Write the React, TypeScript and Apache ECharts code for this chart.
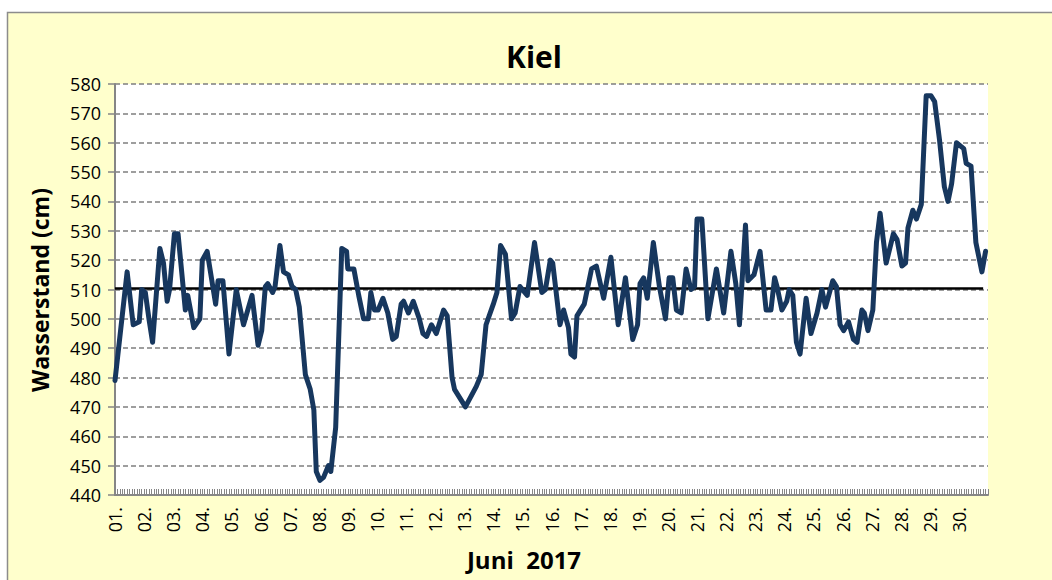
import React, { useEffect, useRef } from "react";
import * as echarts from "echarts";

// Time of each reading in hours since 1 June 2017 00:00, and water level (cm)
const hours = [
  0, 10, 15, 20, 22, 25, 28, 31, 37, 40, 43, 45, 49, 52, 58, 60, 65, 70, 72, 76,
  83, 85, 89, 94, 100, 106, 113, 118, 121, 124, 126, 130, 132, 136, 139, 143, 146, 149, 152, 157,
  161, 164, 166, 169, 172, 176, 178, 182, 187, 191, 192, 197, 201, 205, 209, 211, 214, 217, 221, 225,
  229, 232, 236, 238, 242, 246, 251, 254, 257, 261, 265, 271, 274, 278, 280, 289, 298, 302, 306, 312,
  315, 318, 322, 327, 330, 334, 340, 346, 352, 355, 359, 361, 367, 370, 374, 376, 379, 381, 387, 393,
  397, 403, 409, 415, 421, 427, 431, 433, 436, 439, 444, 449, 454, 457, 460, 463, 467, 471, 475, 478,
  480, 484, 489, 496, 502, 508, 512, 515, 520, 522, 527, 532, 537, 541, 544, 546, 550, 554, 556, 559,
  562, 565, 570, 574, 579, 583, 586, 592, 595, 598, 601, 605, 609, 612, 616, 618, 621, 625, 628, 631,
  636, 642, 645, 649, 652, 654, 658, 661, 665, 669, 673, 676, 680, 684, 687, 690, 694, 700, 702, 706,
  710, 715, 718,
];
const levels = [
  479, 516, 498, 499, 510, 509, 500, 492, 524, 519, 506, 510, 529, 529, 503, 508, 497, 500, 520, 523,
  505, 513, 513, 488, 510, 498, 508, 491, 496, 511, 512, 509, 511, 525, 516, 515, 511, 510, 504, 481,
  476, 469, 448, 445, 446, 450, 448, 463, 524, 523, 517, 517, 508, 500, 500, 509, 503, 503, 507, 502,
  493, 494, 505, 506, 502, 506, 500, 495, 494, 498, 495, 503, 501, 480, 476, 470, 477, 481, 498, 505,
  509, 525, 522, 500, 502, 511, 508, 526, 509, 510, 520, 519, 498, 503, 497, 488, 487, 501, 505, 517,
  518, 507, 521, 498, 514, 493, 498, 512, 514, 507, 526, 511, 500, 514, 514, 503, 502, 517, 510, 511,
  534, 534, 500, 517, 502, 523, 512, 498, 532, 513, 515, 523, 503, 503, 514, 511, 503, 506, 510, 508,
  492, 488, 507, 495, 502, 510, 504, 513, 511, 498, 496, 499, 493, 492, 503, 502, 496, 503, 526, 536,
  519, 529, 527, 518, 519, 531, 537, 534, 539, 576, 576, 574, 561, 545, 540, 546, 560, 558, 553, 552,
  526, 516, 523,
];
const meanLevel = 510.3;
const meanSpan = [0, 716];

const titleText = "Kiel";
const yAxisTitle = "Wasserstand (cm)";
const xAxisTitle = "Juni  2017";

export default function App() {
  const ref = useRef<HTMLDivElement>(null);
  useEffect(() => {
    if (!ref.current) return;
    const chart = echarts.init(ref.current, undefined, { renderer: "svg" });
    const font = "'Open Sans', 'Noto Sans', sans-serif";
    const series = hours.map((h, i) => [h, levels[i]]);
    chart.setOption({
      animation: false,
      backgroundColor: "#ffffff",
      graphic: [
        {
          type: "rect",
          z: -10,
          shape: { x: 7.5, y: 12.5, width: 1060, height: 600 },
          style: { fill: "#FFFFCC", stroke: "#8c8c8c", lineWidth: 1.5 },
        },
        {
          type: "text",
          x: 534,
          y: 56,
          style: {
            text: titleText,
            font: `bold 30px ${font}`,
            fill: "#000",
            textAlign: "center",
            textVerticalAlign: "middle",
          },
        },
        {
          type: "text",
          x: 40,
          y: 290,
          rotation: Math.PI / 2,
          style: {
            text: yAxisTitle,
            font: `bold 23px ${font}`,
            fill: "#000",
            textAlign: "center",
            textVerticalAlign: "middle",
          },
        },
        {
          type: "text",
          x: 524,
          y: 559,
          style: {
            text: xAxisTitle,
            font: `bold 24px ${font}`,
            fill: "#000",
            textAlign: "center",
            textVerticalAlign: "middle",
          },
        },
      ],
      grid: {
        left: 115,
        right: 64,
        top: 84,
        bottom: 85,
        show: true,
        backgroundColor: "#ffffff",
        borderWidth: 0,
      },
      xAxis: {
        type: "value",
        min: 0,
        max: 720,
        interval: 24,
        axisLine: { show: true, onZero: false, lineStyle: { color: "#868686", width: 2 } },
        axisTick: { show: true, inside: true, length: 6, lineStyle: { color: "#868686", width: 1 } },
        minorTick: { show: true, splitNumber: 12, length: 6, lineStyle: { color: "#868686", width: 1 } },
        splitLine: { show: false },
        axisLabel: {
          rotate: 90,
          margin: 12,
          fontFamily: font,
          fontSize: 18,
          color: "#000",
          showMaxLabel: false,
          formatter: (v: number) => {
            if (v >= 720) return "";
            const d = Math.round(v / 24) + 1;
            return (d < 10 ? "0" + d : String(d)) + ".";
          },
        },
      },
      yAxis: {
        type: "value",
        min: 440,
        max: 580,
        interval: 10,
        axisLine: { show: true, lineStyle: { color: "#868686", width: 2 } },
        axisTick: { show: true, inside: false, length: 7, lineStyle: { color: "#868686", width: 1.5 } },
        splitLine: {
          show: true,
          lineStyle: { color: "#7f7f7f", width: 1.5, type: [5, 3] },
        },
        axisLabel: {
          margin: 14,
          fontFamily: font,
          fontSize: 18,
          color: "#000",
        },
      },
      series: [
        {
          type: "line",
          name: "Mittelwert",
          data: meanSpan.map((h) => [h, meanLevel]),
          showSymbol: false,
          lineStyle: { color: "#000", width: 2.5 },
          z: 3,
        },
        {
          type: "line",
          name: "Wasserstand",
          data: series,
          showSymbol: false,
          lineStyle: { color: "#17375E", width: 5, join: "round", cap: "round" },
          z: 4,
        },
      ],
    });
    return () => chart.dispose();
  }, []);
  return (
    <div
      ref={ref}
      style={{ position: "fixed", left: 0, top: 0, width: 1052, height: 580 }}
    />
  );
}
